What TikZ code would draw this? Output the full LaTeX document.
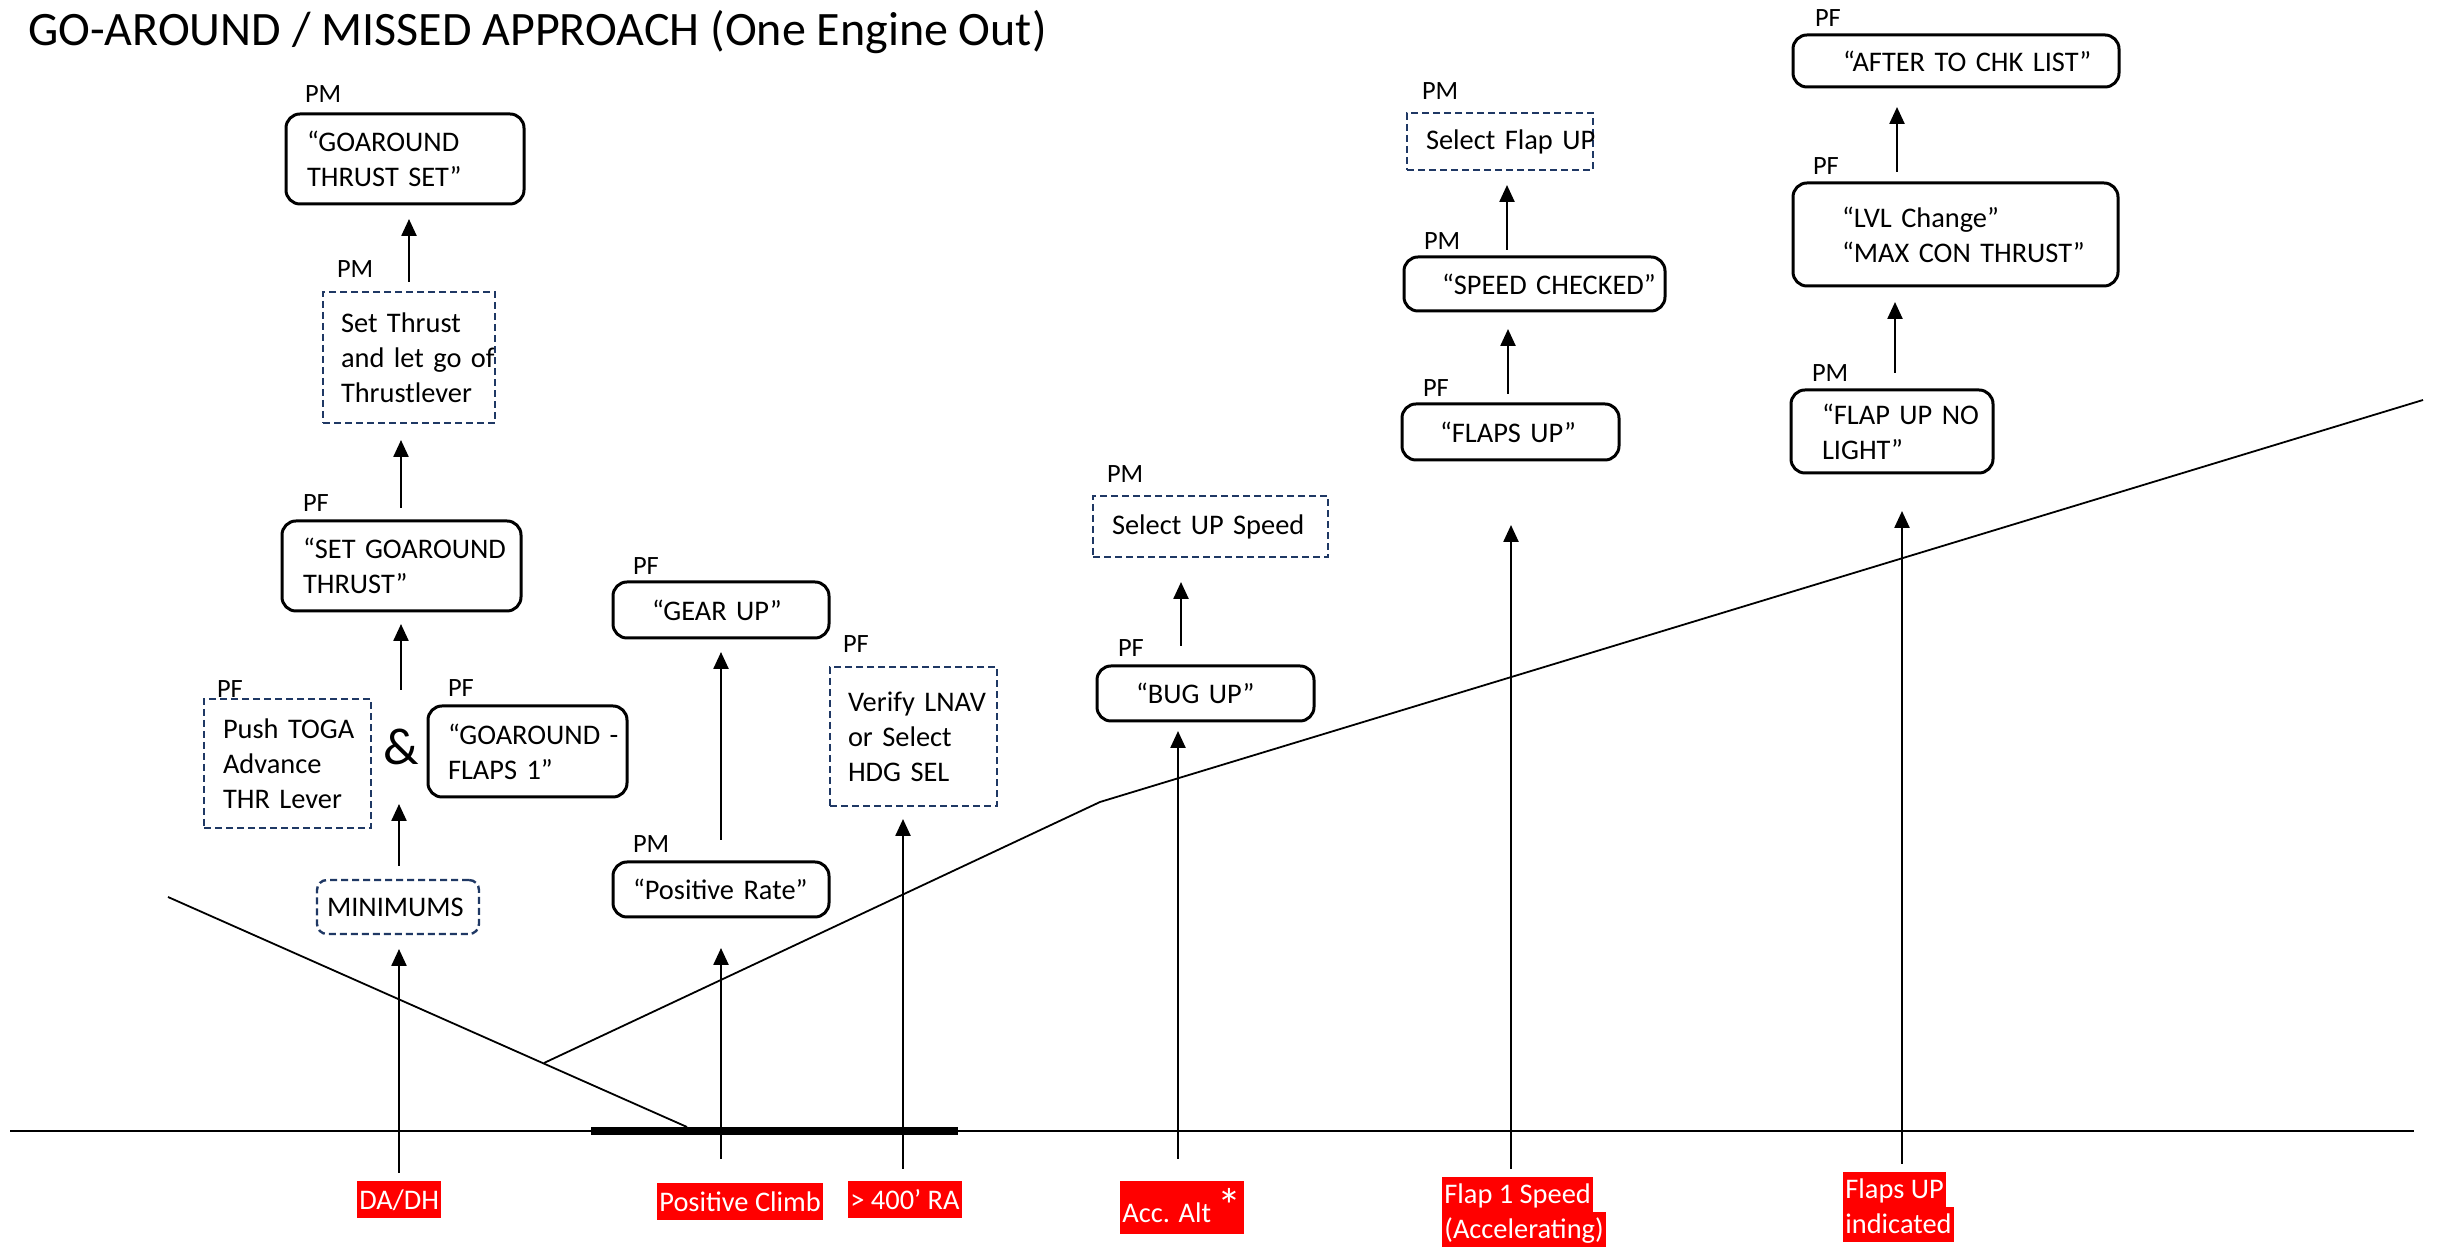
\documentclass[tikz,border=0pt]{standalone}
\usepackage{fontspec}
\setmainfont{Carlito}
\usetikzlibrary{arrows.meta}
\definecolor{navy}{HTML}{1F3864}
\newcommand{\hlb}[1]{{\fboxsep=0pt\colorbox{red}{\hspace{0.6pt}\rule[-2pt]{0pt}{9.25pt}#1\hspace{0.6pt}}}}
\newcommand{\hlc}[1]{{\fboxsep=0pt\colorbox{red}{\hspace{0.6pt}\rule[-2pt]{0pt}{8.75pt}#1\hspace{0.6pt}}}}
\begin{document}
\begin{tikzpicture}[x=0.25pt,y=-0.25pt,
  every node/.style={inner sep=0pt,outer sep=0pt},
  txt/.style={font=\fontsize{7.1}{8.75}\selectfont},
  rbox/.style={txt,draw,line width=0.75pt,rounded corners=3.5pt,align=left},
  dbox/.style={txt,draw=navy,line width=0.6pt,dash pattern=on 1.75pt off 1pt,align=left},
  role/.style={font=\fontsize{6.6}{7.8}\selectfont,anchor=base west},
  evt/.style={font=\fontsize{7.1}{8.75}\selectfont,text=white,anchor=north west,align=left},
  arr/.style={-{Triangle[length=4.25pt,width=3.75pt]},line width=0.6pt},
  thin/.style={line width=0.45pt}]
\fill[white] (0,0) rectangle (2443,1248);
\useasboundingbox (0,0) rectangle (2443,1248);

% title
\node[anchor=base west,font=\fontsize{12}{14}\selectfont] (title) at (28,46) {GO-AROUND / MISSED APPROACH (One Engine Out)};

% ground, runway, flight path
\coordinate (g0) at (10,1131);
\coordinate (g1) at (2414,1131);
\coordinate (rw0) at (591,1131);
\coordinate (rw1) at (958,1131);
\coordinate (d0) at (168,897);
\coordinate (d1) at (687,1127);
\coordinate (c0) at (544,1063);
\coordinate (c1) at (1100,802);
\coordinate (c2) at (2423,400);
\draw[line width=0.5pt] (g0) -- (g1);
\draw[line width=2pt] (rw0) -- (rw1);
\draw[thin] (d0) -- (d1);
\draw[thin] (c0) -- (c1) -- (c2);

% event labels
\node[evt] (dadh) at (357,1181) {\hlb{DA/DH}};
\node[evt] (posclimb) at (657,1183) {\hlb{Positive Climb}};
\node[evt] (ra400) at (848,1181) {\hlb{> 400’ RA}};
\node[evt] (accalt) at (1120,1181) {{\fboxsep=0pt\colorbox{red}{\hspace{0.6pt}\rule[-2.75pt]{0pt}{13.25pt}Acc. Alt {\fontsize{12}{12}\selectfont *}\hspace{0.6pt}}}};
\node[evt] (flap1) at (1442,1177) {\hlc{Flap 1 Speed}\\\hlc{(Accelerating)}};
\node[evt] (flapsup) at (1843,1172) {\hlc{Flaps UP}\\\hlc{indicated}};

% boxes
\node[rbox,text width=49pt,inner xsep=5.25pt,minimum height=22.5pt] (gts) at (405,159) {\mbox{“GOAROUND}\\\mbox{THRUST SET”}};
\node[dbox,text width=34pt,inner xsep=4.5pt,minimum height=32.75pt] (settl) at (409,357.5) {\mbox{Set Thrust}\\\mbox{and let go of}\\\mbox{Thrustlever}};
\node[rbox,text width=49.25pt,inner xsep=5.25pt,minimum height=22.5pt] (sgt) at (401.5,566) {\mbox{“SET GOAROUND}\\\mbox{THRUST”}};
\node[dbox,text width=32.25pt,inner xsep=4.75pt,minimum height=32.25pt] (toga) at (287.5,763.5) {\mbox{Push TOGA}\\\mbox{Advance}\\\mbox{THR Lever}};
\node[font=\fontsize{13}{13}\selectfont,minimum height=28.5pt] (amp) at (401,747) {\&};
\node[rbox,text width=39.75pt,inner xsep=5pt,minimum height=22.75pt] (gaf) at (527.5,751.5) {\mbox{“GOAROUND -}\\\mbox{FLAPS 1”}};
\node[dbox,rounded corners=2.5pt,text width=35.5pt,inner xsep=2.5pt,minimum height=13.5pt] (mins) at (398,907) {\mbox{MINIMUMS}};
\node[rbox,text width=34.5pt,inner xsep=9.75pt,minimum height=14pt] (gear) at (721,610) {\mbox{“GEAR UP”}};
\node[rbox,text width=44pt,inner xsep=5pt,minimum height=13.75pt] (posr) at (721,889.5) {\mbox{“Positive Rate”}};
\node[dbox,text width=32.75pt,inner xsep=4.5pt,minimum height=34.75pt] (lnav) at (913.5,736.5) {\mbox{Verify LNAV}\\\mbox{or Select}\\\mbox{HDG SEL}\\[4pt]};
\node[dbox,text width=49.25pt,inner xsep=4.75pt,minimum height=15.25pt] (sups) at (1210.5,526.5) {\mbox{Select UP Speed}};
\node[rbox,text width=34.75pt,inner xsep=9.75pt,minimum height=13.75pt] (bug) at (1205.5,693.5) {\mbox{“BUG UP”}};
\node[dbox,text width=37pt,inner xsep=4.75pt,minimum height=14.25pt] (sfu) at (1500,141.5) {\mbox{Select Flap UP}};
\node[rbox,text width=46.25pt,inner xsep=9.5pt,minimum height=13.5pt] (spc) at (1534.5,284) {\mbox{“SPEED CHECKED”}};
\node[rbox,text width=35.25pt,inner xsep=9.5pt,minimum height=14pt] (flu) at (1510.5,432) {\mbox{“FLAPS UP”}};
\node[rbox,text width=56.5pt,inner xsep=12.5pt,minimum height=13pt] (atc) at (1956,61) {\mbox{“AFTER TO CHK LIST”}};
\node[rbox,text width=56.75pt,inner xsep=12.25pt,minimum height=25.75pt] (lvl) at (1955.5,234.5) {\mbox{“LVL Change”}\\\mbox{“MAX CON THRUST”}};
\node[rbox,text width=35pt,inner xsep=7.75pt,minimum height=20.75pt] (fnl) at (1892,431.5) {\mbox{“FLAP UP NO}\\\mbox{LIGHT”}};

% role labels
\node[role] (r1) at (305,103) {PM};
\node[role] (r2) at (337,278) {PM};
\node[role] (r3) at (303,512) {PF};
\node[role] (r4) at (217,698) {PF};
\node[role] (r5) at (448,697) {PF};
\node[role] (r6) at (633,575) {PF};
\node[role] (r7) at (843,653) {PF};
\node[role] (r8) at (633,853) {PM};
\node[role] (r9) at (1107,483) {PM};
\node[role] (r10) at (1118,657) {PF};
\node[role] (r11) at (1422,100) {PM};
\node[role] (r12) at (1424,250) {PM};
\node[role] (r13) at (1423,397) {PF};
\node[role] (r14) at (1815,27) {PF};
\node[role] (r15) at (1813,175) {PF};
\node[role] (r16) at (1812,382) {PM};

% event lines (free bottom ends)
\coordinate (e1) at (399,1173);
\coordinate (e2) at (721,1159);
\coordinate (e3) at (903,1169);
\coordinate (e4) at (1178,1159);
\coordinate (e5) at (1511,1169);
\coordinate (e6) at (1902,1164);
\draw[arr,shorten >=3.75pt] (e1) -- (e1 |- mins.south);
\draw[arr,shorten >=7.75pt] (e2) -- (e2 |- posr.south);
\draw[arr,shorten >=3.25pt] (e3) -- (e3 |- lnav.south);
\draw[arr,shorten >=2.5pt] (e4) -- (e4 |- bug.south);
\draw[arr,shorten >=16.25pt] (e5) -- (e5 |- flu.south);
\draw[arr,shorten >=9.5pt] (e6) -- (e6 |- fnl.south);

% sequence arrows
\draw[arr,shorten <=3.5pt] (e1 |- mins.north) -- (e1 |- amp.south);
\draw[arr,shorten >=3.25pt] (amp.north) -- (amp |- sgt.south);
\draw[arr,shorten <=3.25pt,shorten >=4.25pt] (amp |- sgt.north) -- (amp |- settl.south);
\draw[arr,shorten <=2.5pt,shorten >=3.75pt] (settl.north) -- (settl.north |- gts.south);
\draw[arr,shorten <=5.5pt,shorten >=3.5pt] (posr.north) -- (gear.south);
\draw[arr,shorten <=5pt,shorten >=6.25pt] ([xshift=0.75pt]e4 |- bug.north) -- ([xshift=0.75pt]e4 |- sups.south);
\draw[arr,shorten <=2.5pt,shorten >=4.5pt] ([xshift=-0.75pt]e5 |- flu.north) -- ([xshift=-0.75pt]e5 |- spc.south);
\draw[arr,shorten <=1.75pt,shorten >=3.75pt] ([xshift=-1pt]e5 |- spc.north) -- ([xshift=-1pt]e5 |- sfu.south);
\draw[arr,shorten <=4.25pt,shorten >=4pt] ([xshift=-1.75pt]e6 |- fnl.north) -- ([xshift=-1.75pt]e6 |- lvl.south);
\draw[arr,shorten <=2.75pt,shorten >=5pt] ([xshift=-1.25pt]e6 |- lvl.north) -- ([xshift=-1.25pt]e6 |- atc.south);
\end{tikzpicture}
\end{document}
